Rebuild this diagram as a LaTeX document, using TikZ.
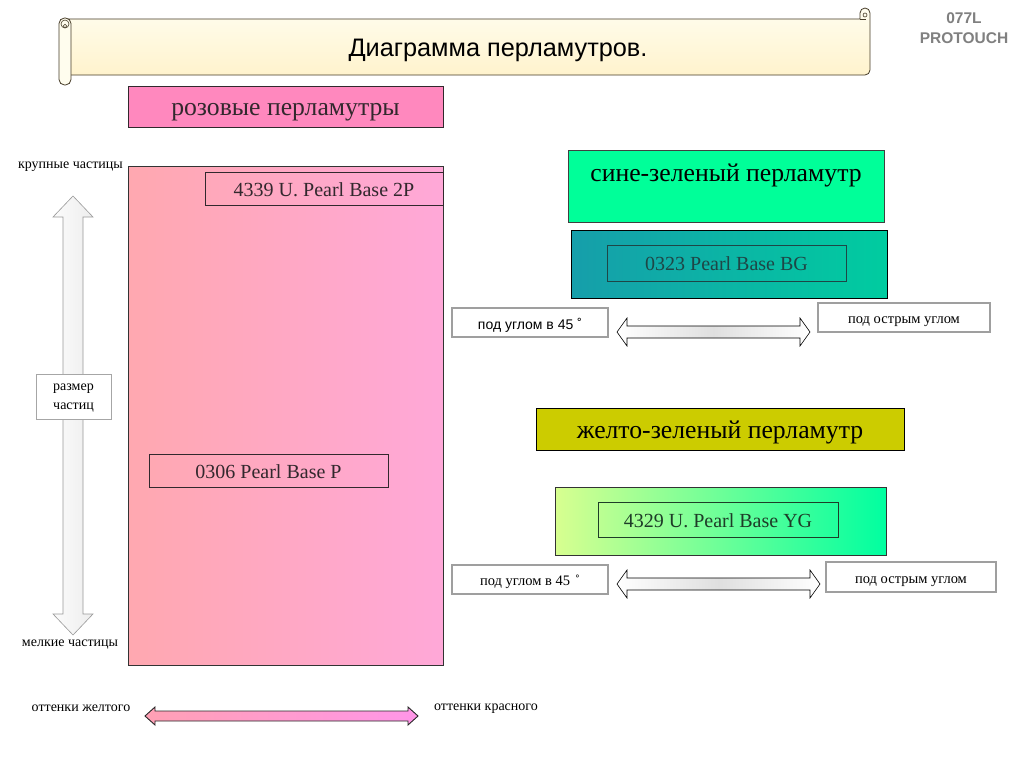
\documentclass[tikz,border=0pt]{standalone}
\usepackage{fontspec}
\setmainfont{Liberation Serif}
\newfontfamily\sansf{Liberation Sans}
\definecolor{pinkhead}{RGB}{255,136,190}
\definecolor{pinkL}{RGB}{255,168,176}
\definecolor{pinkR}{RGB}{255,168,216}
\definecolor{springg}{RGB}{0,255,153}
\definecolor{tealL}{RGB}{22,158,170}
\definecolor{tealR}{RGB}{0,204,160}
\definecolor{olive}{RGB}{204,204,0}
\definecolor{ygL}{RGB}{216,255,144}
\definecolor{ygR}{RGB}{0,255,160}
\definecolor{darktxt}{RGB}{50,40,45}
\definecolor{tealtxt}{RGB}{30,70,70}
\definecolor{ygtxt}{RGB}{30,60,40}
\definecolor{creamT}{RGB}{255,253,238}
\definecolor{creamB}{RGB}{255,243,205}
\definecolor{scrolledge}{RGB}{70,60,40}
\definecolor{arrL}{RGB}{255,160,180}
\definecolor{arrR}{RGB}{255,150,232}
\newcommand\hdarrow[7]{% x1 x2 yc headlen halfhead halfshaft style
  \path[#7] (#1,#3) -- ({#1+#4},{#3-#5}) -- ({#1+#4},{#3-#6}) -- ({#2-#4},{#3-#6})
    -- ({#2-#4},{#3-#5}) -- (#2,#3) -- ({#2-#4},{#3+#5}) -- ({#2-#4},{#3+#6})
    -- ({#1+#4},{#3+#6}) -- ({#1+#4},{#3+#5}) -- cycle;}
\newcommand\vdarrow[7]{% y1 y2 xc headlen halfhead halfshaft style
  \path[#7] (#3,#1) -- ({#3-#5},{#1+#4}) -- ({#3-#6},{#1+#4}) -- ({#3-#6},{#2-#4})
    -- ({#3-#5},{#2-#4}) -- (#3,#2) -- ({#3+#5},{#2-#4}) -- ({#3+#6},{#2-#4})
    -- ({#3+#6},{#1+#4}) -- ({#3+#5},{#1+#4}) -- cycle;}
\begin{document}
\begin{tikzpicture}[x=1pt,y=-1pt,
  box/.style={draw=darktxt, line width=0.9pt, inner sep=0pt, text=darktxt},
  th/.style={text height=#1, text depth=0pt},
  smallbox/.style={draw=gray!75, line width=1.4pt, fill=white, inner sep=0pt, th=12.5pt, font=\fontsize{14.5}{17}\selectfont},
  plain/.style={inner sep=0pt, th=10.4pt, font=\fontsize{14}{17}\selectfont},
  headfont/.style={th=18pt, font=\fontsize{25.7}{30}\selectfont},
  codefont/.style={th=15.6pt, font=\fontsize{20}{24}\selectfont},
  shaded arrow/.style={draw=black, line width=0.6pt, left color=white, right color=white, middle color=gray!25}
]
\useasboundingbox (0,0) rectangle (1024,768);
\fill[white] (0,0) rectangle (1024,768);

% scroll banner
\path[draw=scrolledge, line width=0.8pt, top color=creamT, bottom color=creamB]
  (66,19) -- (860,19) -- (860,13) arc[start angle=180, end angle=360, radius=5] -- (870,70)
  arc[start angle=0, end angle=90, radius=5] -- (66,75) -- cycle;
\draw[scrolledge, line width=0.6pt] (865,15) circle[radius=2];
\draw[scrolledge, line width=0.6pt] (860,19) -- (866,19);
\draw[scrolledge, line width=0.8pt, fill=creamT, rounded corners=5.5pt] (59,18) rectangle (71,85);
\draw[scrolledge, line width=0.6pt] (65,24) circle[radius=4];
\draw[scrolledge, line width=0.6pt] (65,26) circle[radius=1.8];
\node[inner sep=0pt, th=15.2pt, font=\sansf\fontsize{25.3}{30}\selectfont] (title) at (498,49) {Диаграмма перламутров.};

\node[inner sep=0pt, text=gray, font=\sansf\bfseries\fontsize{15.5}{18}\selectfont] (code) at (964,18) {077L};
\node[inner sep=0pt, text=gray, font=\sansf\bfseries\fontsize{15.5}{18}\selectfont] (brand) at (964,38) {PROTOUCH};

% pink column
\node[box, fill=pinkhead, minimum width=315pt, minimum height=41pt, headfont] (pinkh) at (285.5,106.5) {розовые перламутры};
\node[box, draw=gray!40!black, left color=pinkL, right color=pinkR, minimum width=315pt, minimum height=499pt] (pinkbig) at (285.5,415.5) {};
\node[box, minimum width=238pt, minimum height=33pt, codefont] (p2p) at (324,188.5) {4339 U. Pearl Base 2P};
\node[box, minimum width=239pt, minimum height=33pt, codefont] (pP) at (268.5,470.5) {0306 Pearl Base P};

% vertical arrow
\vdarrow{196}{635}{73}{21}{20}{10}{draw=gray!80, line width=0.6pt, left color=gray!3, right color=gray!14}
\node[draw=gray!70, line width=0.6pt, fill=white, minimum width=75pt, minimum height=45pt] (size) at (73.5,396.5) {};
\node[inner sep=0pt, align=center, font=\fontsize{14}{19}\selectfont] (sizetext) at (73.5,398) {размер\\частиц};
\node[plain, anchor=east] (big) at (123,163) {крупные частицы};
\node[plain] (small) at (70,641) {мелкие частицы};

% blue-green
\node[box, draw=gray!50!black, fill=springg, minimum width=316pt, minimum height=72pt] (bgh) at (726,186) {};
\node[inner sep=0pt, headfont] (bghtext) at (726,172) {сине-зеленый перламутр};
\node[box, draw=black, left color=tealL, right color=tealR, minimum width=316pt, minimum height=68pt] (teal) at (729,264) {};
\node[box, draw=tealtxt, text=tealtxt, minimum width=239pt, minimum height=36pt, codefont] (bgbase) at (726.5,263) {0323 Pearl Base BG};
\node[smallbox, minimum width=156pt, minimum height=29pt, th=13.3pt, font=\sansf\fontsize{14}{17}\selectfont] (ang1) at (530,322.5) {под углом в 45\hspace{4pt}˚};
\node[smallbox, minimum width=172pt, minimum height=29pt] (acute1) at (904,317.5) {под острым углом};
\hdarrow{617}{810}{332}{10}{14}{6}{shaded arrow}

% yellow-green
\node[box, draw=black, fill=olive, text=black, minimum width=368pt, minimum height=42pt, headfont] (ygh) at (720,429) {желто-зеленый перламутр};
\node[box, draw=gray!40!black, left color=ygL, right color=ygR, minimum width=331pt, minimum height=68pt] (yg) at (720.5,521) {};
\node[box, draw=ygtxt, text=ygtxt, minimum width=240pt, minimum height=35pt, codefont] (ygbase) at (718,519.5) {4329 U. Pearl Base YG};
\node[smallbox, minimum width=156pt, minimum height=29pt] (ang2) at (530,579.5) {под углом в 45\hspace{5pt}˚};
\node[smallbox, minimum width=170pt, minimum height=30pt] (acute2) at (911,577) {под острым углом};
\hdarrow{617}{820}{584}{10}{14}{6}{shaded arrow}

% bottom
\node[plain] (yellowish) at (81,706) {оттенки желтого};
\node[plain] (reddish) at (486,705) {оттенки красного};
\hdarrow{145}{418}{716}{10}{9}{5}{draw=gray!30!black, line width=0.9pt, left color=arrL, right color=arrR}
\end{tikzpicture}
\end{document}
